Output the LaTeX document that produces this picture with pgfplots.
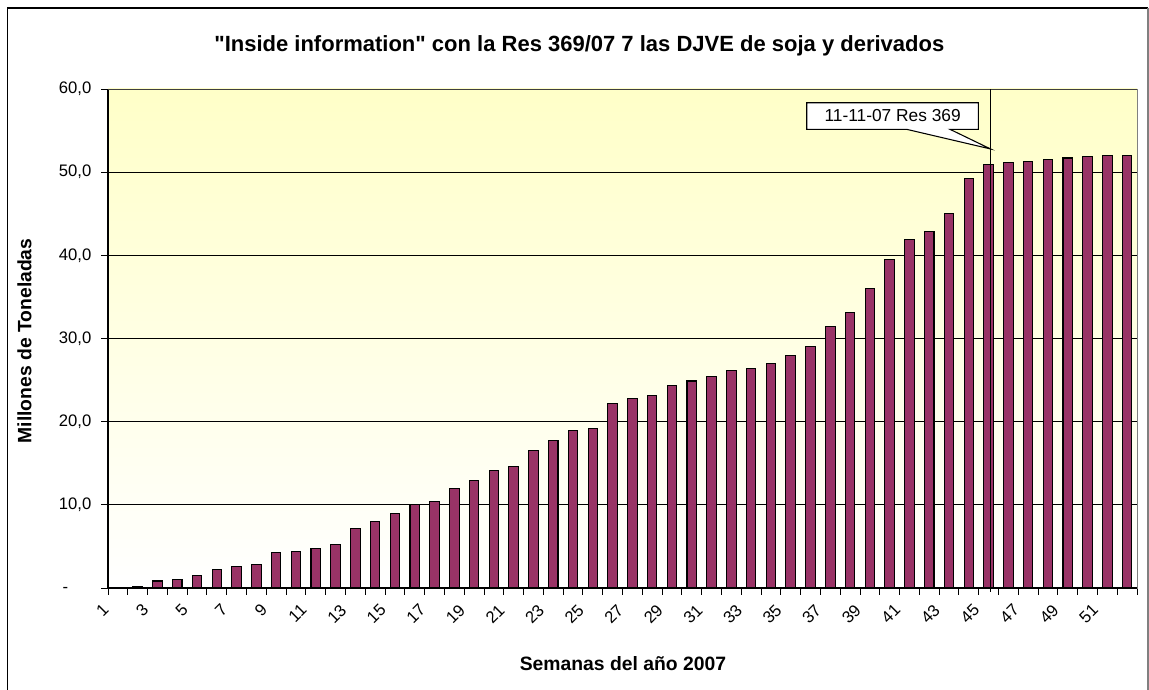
\documentclass[border=0pt]{standalone}
\usepackage{fontspec}
\setmainfont{Liberation Sans}
\usepackage{pgfplots}
\pgfplotsset{compat=1.18}
\definecolor{barplum}{HTML}{993366}
\definecolor{bgyellow}{HTML}{FFFFC8}
\begin{document}
\begin{tikzpicture}[x=1pt,y=1pt]
\useasboundingbox (0,0) rectangle (861.75,516.75);
\fill[white] (0,0) rectangle (861.75,516.75);
\draw[black, line width=1.1pt] (5.6,-2) -- (5.6,510.75) -- (861,510.75);
\draw[gray, line width=0.8pt] (861,510.75) -- (861,-2);
\node[font=\bfseries\fontsize{16.5}{19}\selectfont, anchor=base] at (434.5,477.75) {\textquotedbl Inside information\textquotedbl{} con la Res 369/07 7 las DJVE de soja y derivados};
\node[font=\bfseries\fontsize{14.5}{17}\selectfont, anchor=base] at (467.25,14.25) {Semanas del año 2007};
\node[font=\bfseries\fontsize{14.5}{17}\selectfont, anchor=base, rotate=90] at (23.5,261) {Millones de Toneladas};
\begin{axis}[
  at={(81pt,75.75pt)}, anchor=south west, scale only axis,
  width=771.75pt, height=374.25pt,
  xmin=0.5, xmax=52.5, ymin=0, ymax=60,
  clip=false,
  axis background/.style={shade, top color=bgyellow, bottom color=white},
  axis line style={draw=gray, line width=0.7pt},
  ymajorgrids, grid style={black, line width=0.6pt},
  tick align=outside, major tick length=5pt, minor tick length=5pt,
  tick style={black, line width=0.7pt},
  xtick pos=bottom, ytick pos=left,
  ytick={0,10,...,60},
  yticklabels={{-\phantom{0,0}},{10,0},{20,0},{30,0},{40,0},{50,0},{60,0}},
  yticklabel style={font=\fontsize{12.5}{15}\selectfont, xshift=-4pt},
  xtick={1,3,...,51},
  xticklabels={1,3,5,7,9,11,13,15,17,19,21,23,25,27,29,31,33,35,37,39,41,43,45,47,49,51},
  minor xtick={0.5,1.5,...,52.5},
  major x tick style={draw=none},
  xticklabel style={font=\fontsize{12.5}{15}\selectfont, rotate=45, anchor=north east, xshift=-9.6pt, yshift=7.6pt},
]
\addplot[ybar, bar width=0.48, bar shift=0pt, fill=barplum, draw=black, line width=0.8pt]
coordinates {
(1,0) (2,0.12) (3,0.84) (4,1.0) (5,1.48) (6,2.2) (7,2.56) (8,2.84) (9,4.24) (10,4.4)
(11,4.72) (12,5.24) (13,7.12) (14,7.96) (15,9.0) (16,10.05) (17,10.37) (18,11.92) (19,12.97) (20,14.14)
(21,14.66) (22,16.55) (23,17.76) (24,18.97) (25,19.13) (26,22.19) (27,22.83) (28,23.2) (29,24.4) (30,24.89)
(31,25.41) (32,26.1) (33,26.43) (34,26.95) (35,27.99) (36,29.03) (37,31.44) (38,33.1) (39,36.0) (40,39.53)
(41,41.94) (42,42.82) (43,45.02) (44,49.29) (45,50.95) (46,51.16) (47,51.33) (48,51.5) (49,51.7) (50,51.83)
(51,51.99) (52,52.0)
};
\draw[black, line width=0.8pt] (rel axis cs:0,0) -- (rel axis cs:1,0);
\draw[black, line width=0.8pt] (rel axis cs:0,0) -- (rel axis cs:0,1);
\draw[black!75, line width=0.6pt] (rel axis cs:0,1) -- (rel axis cs:1,1);
\addplot[black, line width=1pt] coordinates {(45.1,-0.45) (45.1,60)};
\draw[black, line width=0.8pt, fill=white]
  (axis cs:35.81,58.35) -- (axis cs:44.48,58.35) -- (axis cs:44.48,55.15)
  -- (axis cs:43.05,55.15) -- (axis cs:45.1,52.79) -- (axis cs:40.86,55.15)
  -- (axis cs:35.81,55.15) -- cycle;
\node[font=\fontsize{13}{15}\selectfont] at (axis cs:40.15,56.75) {11-11-07 Res 369};
\end{axis}
\end{tikzpicture}
\end{document}
